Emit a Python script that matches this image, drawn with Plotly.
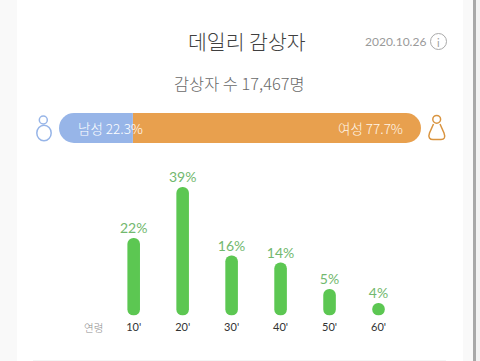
import plotly.graph_objects as go

W, H = 480, 361
# Chart values
age_labels = ["10'", "20'", "30'", "40'", "50'", "60'"]
pct_labels = ["22%", "39%", "16%", "14%", "5%", "4%"]
bar_heights = [77.5, 128.5, 60, 53, 26.5, 12.6]
male_share = 20.4
female_share = 79.6
male_label = "남성 22.3%"
female_label = "여성 77.7%"
title_text = "데일리 감상자"
date_text = "2020.10.26"
count_text = "감상자 수 17,467명"
age_title = "연령"

KR = "Noto Sans CJK KR"
LAT = "Lato, " + KR
GREEN, GREEN_T = "#5cc752", "#72b86e"
BLUE, ORANGE = "#97b5e8", "#e8a04e"
ORANGE_LINE = "#d9943f"

pos = list(range(len(age_labels)))
fig = go.Figure()

# vertical pills: giving a base rounds both ends of each bar
fig.add_bar(x=pos, base=[0] * len(pos), y=bar_heights,
            width=0.257, marker=dict(color=GREEN, cornerradius=6.3, line_width=0),
            xaxis="x", yaxis="y", hoverinfo="skip")
# labels sit a little above the bar tops
fig.add_scatter(x=pos, y=[h + 1.5 for h in bar_heights], mode="text", text=pct_labels,
                textposition="top center",
                textfont=dict(family=LAT, size=14, color=GREEN_T, weight=400),
                xaxis="x", yaxis="y", hoverinfo="skip")

# gender bar: both segments grow from the split at zero, rounded at the far end
fig.add_bar(y=[0], x=[female_share], orientation="h",
            width=1, marker=dict(color=ORANGE, cornerradius=15, line_width=0),
            xaxis="x2", yaxis="y2", hoverinfo="skip")
fig.add_bar(y=[0], x=[-male_share], orientation="h",
            width=1, marker=dict(color=BLUE, cornerradius=15, line_width=0),
            xaxis="x2", yaxis="y2", hoverinfo="skip")

def px(x): return x / W
def py(y): return 1 - y / H
def pp(x, y): return f"{px(x)},{py(y)}"

def rect(x0, y0, x1, y1, color, layer="below"):
    return dict(type="rect", xref="paper", yref="paper", x0=px(x0), x1=px(x1), y0=py(y0), y1=py(y1),
                fillcolor=color, line_width=0, layer=layer)

def ellipse(cx, cy, rx, ry, color, w=1.5):
    return dict(type="circle", xref="paper", yref="paper", x0=px(cx - rx), x1=px(cx + rx),
                y0=py(cy + ry), y1=py(cy - ry), line=dict(color=color, width=w), fillcolor="rgba(0,0,0,0)")

def path(pts, color, w=1.5):
    return dict(type="path", xref="paper", yref="paper", path=pts, line=dict(color=color, width=w))

shapes = [
    rect(0, 0, W, H, "#ffffff"),
    rect(0, 0, 17, H, "#f9f9f9"),
    rect(463, 0, 473, H, "#f9f9f9"),
    rect(473, 0, 476, H, "#a8a8a8"),
    rect(476, 0, W, H, "#f2f2f2"),
    rect(33, 360, 446, 361, "#f4f4f4"),
    ellipse(43.3, 120, 4, 4, BLUE),
    ellipse(44, 133, 7.2, 7.8, BLUE),
    ellipse(436.7, 119.3, 3.9, 3.9, ORANGE_LINE),
    ellipse(438.5, 41.5, 8, 8, "#a9a9a9", 1),
    path(f"M{pp(433.5,124)} L{pp(429.5,133)} Q{pp(428.3,136)} {pp(429.5,138)} "
         f"Q{pp(430.5,139.5)} {pp(433,139.5)} L{pp(441,139.5)} Q{pp(443.5,139.5)} {pp(444.3,138)} "
         f"Q{pp(445.2,136)} {pp(444,133)} L{pp(440,124)}", ORANGE_LINE),
]

def txt(x, y, s, size, color, family=KR, weight=300):
    return dict(xref="paper", yref="paper", x=px(x), y=py(y), text=s, showarrow=False,
                font=dict(family=family, size=size, color=color, weight=weight),
                xanchor="center", yanchor="middle", borderpad=0)

anns = [
    txt(247, 41, title_text, 20.5, "#3f3f3f"),
    txt(395.5, 41.5, date_text, 12, "#9a9a9a", LAT, 400),
    txt(438.5, 42, "i", 11, "#a0a0a0", LAT, 400),
    txt(239.5, 83, count_text, 16.4, "#6a6a6a"),
    txt(110, 128, male_label, 13.5, "#ffffff"),
    txt(370, 128, female_label, 13.5, "#fff6ea"),
    txt(93.5, 327.5, age_title, 10.5, "#8c8c8c"),
]

fig.update_layout(
    width=W, height=H, autosize=False, margin=dict(l=0, r=0, t=0, b=0),
    paper_bgcolor="#ffffff", plot_bgcolor="rgba(0,0,0,0)", showlegend=False, barmode="overlay",
    shapes=shapes, annotations=anns,
    xaxis=dict(domain=[px(109.2), px(403)], range=[-0.5, 5.5], tickmode="array", tickvals=pos,
               ticktext=age_labels, showgrid=False, zeroline=False, showline=False, ticks="",
               tickfont=dict(family=LAT, size=11, color="#333333"), ticklabelstandoff=3),
    yaxis=dict(domain=[py(315.5), py(150)], range=[0, 165.5], visible=False),
    xaxis2=dict(domain=[px(59), px(421)], range=[-male_share, female_share], visible=False, anchor="y2"),
    yaxis2=dict(domain=[py(143), py(113)], range=[-0.5, 0.5], visible=False, anchor="x2"),
)
fig.write_html("out.html", config={"displayModeBar": False},
               post_script="document.body.style.margin='0';document.documentElement.style.overflow='hidden';")
